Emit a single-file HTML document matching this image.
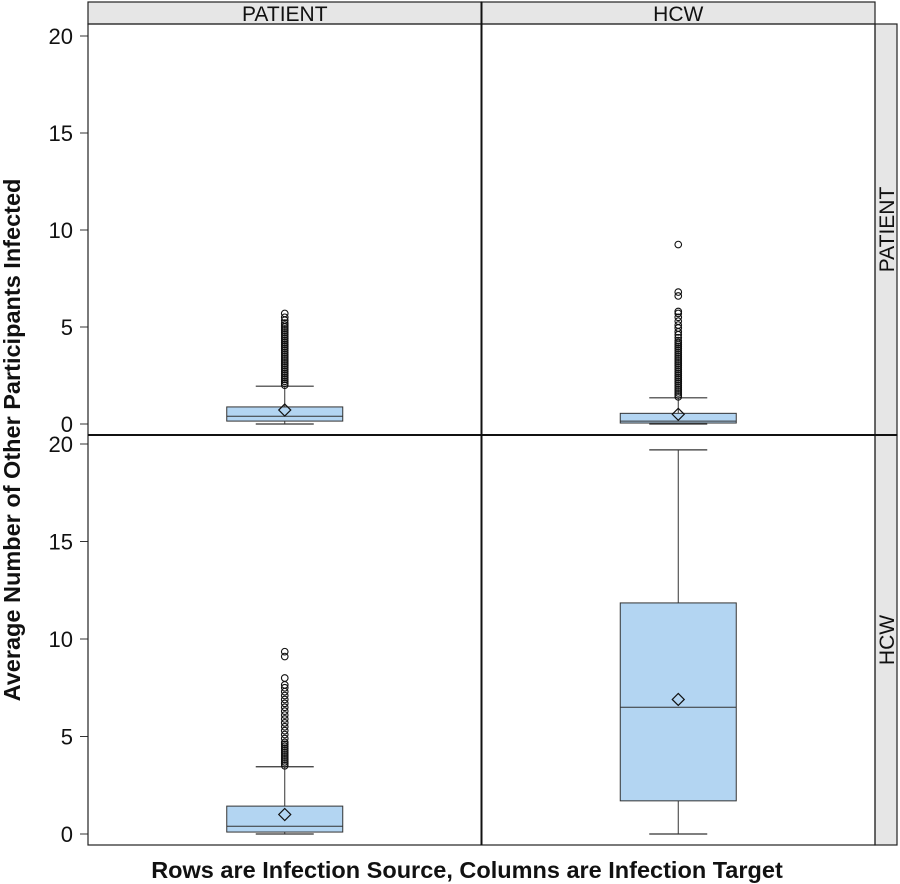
<!DOCTYPE html>
<html><head><meta charset="utf-8"><style>
html,body{margin:0;padding:0;background:#fff;}
svg{display:block;font-family:"Liberation Sans",Arial,sans-serif;}
</style></head><body>
<svg id="chart" width="900" height="884" viewBox="0 0 900 884"></svg>
<script>
const columns = ["PATIENT", "HCW"];
const rows = ["PATIENT", "HCW"];
const yTicks = [0, 5, 10, 15, 20];
// stats per panel [row][col]: min, q1, median, q3, whiskerHigh, mean
const statsPP = [0, 0.15, 0.4, 0.88, 1.95, 0.72];
const statsPH = [0, 0.05, 0.15, 0.55, 1.35, 0.5];
const statsHP = [0, 0.1, 0.4, 1.43, 3.45, 1.0];
const statsHH = [0, 1.7, 6.5, 11.85, 19.7, 6.9];
const outPP = [2.0,2.1,2.2,2.3,2.4,2.5,2.6,2.7,2.8,2.9,3.0,3.1,3.2,3.3,3.4,3.5,3.6,3.7,3.8,3.9,4.0,4.1,4.2,4.3,4.4,4.5,4.6,4.7,4.8,4.9,5.0,5.1,5.2,5.35,5.5,5.7];
const outPH = [1.4,1.5,1.6,1.7,1.8,1.9,2.0,2.1,2.2,2.3,2.4,2.5,2.6,2.7,2.8,2.9,3.0,3.1,3.2,3.3,3.4,3.5,3.6,3.7,3.8,3.9,4.0,4.1,4.2,4.3,4.45,4.6,4.75,4.95,5.1,5.3,5.5,5.7,5.8,6.6,6.8,9.25];
const outHP = [3.5,3.6,3.7,3.8,3.9,4.0,4.1,4.2,4.3,4.4,4.5,4.6,4.7,4.9,5.1,5.3,5.5,5.7,5.9,6.1,6.3,6.5,6.7,6.9,7.1,7.3,7.5,7.65,8.0,9.1,9.35];
const outHH = [];

const stats = [[statsPP, statsPH], [statsHP, statsHH]];
const outs = [[outPP, outPH], [outHP, outHH]];

const NS = "http://www.w3.org/2000/svg";
const svg = document.getElementById("chart");
function mk(tag, attrs, parent) {
  const e = document.createElementNS(NS, tag);
  for (const k in attrs) e.setAttribute(k, attrs[k]);
  (parent || svg).appendChild(e);
  return e;
}
const L = 88, R = 875, colW = (R - L) / 2;
const rowTop = [24, 435], rowBot = [435, 845];
const y0 = [424, 834], yPer = [19.4, 19.5];
function yScale(r, v) { return y0[r] - v * yPer[r]; }
function xCenter(c) { return L + colW * c + colW / 2; }
const boxHalf = 58, capHalf = 29;

columns.forEach((name, c) => {
  const g = mk("g", {});
  
  
  mk("rect", {x: L + c * colW, y: 2, width: colW, height: 22, fill: "#e6e6e6", stroke: "#222", "stroke-width": 1.2}, g);
  const t = mk("text", {x: L + c * colW + colW / 2, y: 21, "text-anchor": "middle", "font-size": 21, fill: "#111"}, g);
  t.textContent = name;
});
rows.forEach((name, r) => {
  const g = mk("g", {});
  
  
  mk("rect", {x: R, y: rowTop[r], width: 22, height: rowBot[r] - rowTop[r], fill: "#e6e6e6", stroke: "#222", "stroke-width": 1.2}, g);
  const cy = (rowTop[r] + rowBot[r]) / 2;
  const t = mk("text", {x: R + 19, y: cy, "text-anchor": "middle", "font-size": 21, fill: "#111", transform: "rotate(-90 " + (R + 19) + " " + cy + ")"}, g);
  t.textContent = name;
});

rows.forEach((name, r) => {
  const g = mk("g", {});
  
  
  yTicks.forEach(v => {
    const y = yScale(r, v);
    mk("line", {x1: 80, x2: L, y1: y, y2: y, stroke: "#333", "stroke-width": 1}, g);
    const t = mk("text", {x: 73, y: y + 8, "text-anchor": "end", "font-size": 22, fill: "#111"}, g);
    t.textContent = v;
  });
});

rows.forEach((rn, r) => {
  columns.forEach((cn, c) => {
    const g = mk("g", {});
    
    
    const s = stats[r][c];
    const cx = xCenter(c);
    const sc = v => yScale(r, v);
    mk("line", {x1: cx, x2: cx, y1: sc(s[0]), y2: sc(s[1]), stroke: "#333", "stroke-width": 1}, g);
    mk("line", {x1: cx, x2: cx, y1: sc(s[3]), y2: sc(s[4]), stroke: "#333", "stroke-width": 1}, g);
    mk("line", {x1: cx - capHalf, x2: cx + capHalf, y1: sc(s[0]), y2: sc(s[0]), stroke: "#333", "stroke-width": 1.2}, g);
    mk("line", {x1: cx - capHalf, x2: cx + capHalf, y1: sc(s[4]), y2: sc(s[4]), stroke: "#333", "stroke-width": 1.2}, g);
    const box = mk("rect", {x: cx - boxHalf, y: sc(s[3]), width: boxHalf * 2, height: sc(s[1]) - sc(s[3]), fill: "#b3d5f2", stroke: "#333", "stroke-width": 1}, g);
    
    
    mk("line", {x1: cx - boxHalf, x2: cx + boxHalf, y1: sc(s[2]), y2: sc(s[2]), stroke: "#333", "stroke-width": 1}, g);
    const my = sc(s[5]);
    const m = mk("polygon", {points: [cx, my - 6, cx + 6, my, cx, my + 6, cx - 6, my].join(" "), fill: "none", stroke: "#111", "stroke-width": 1.2}, g);
    
    
    outs[r][c].forEach(v => {
      const o = mk("circle", {cx: cx, cy: sc(v), r: 3.3, fill: "none", stroke: "#111", "stroke-width": 1.1}, g);
      
      
    });
  });
});

const fr = mk("g", {});


mk("rect", {x: L, y: 24, width: R - L, height: 845 - 24, fill: "none", stroke: "#222", "stroke-width": 1.2}, fr);
mk("line", {x1: L + colW, x2: L + colW, y1: 2, y2: 845, stroke: "#111", "stroke-width": 2}, fr);
mk("line", {x1: L, x2: R + 22, y1: 435, y2: 435, stroke: "#111", "stroke-width": 2}, fr);
</script>
<svg style="position:absolute;left:0;top:0" width="900" height="884">
<text x="467" y="878" text-anchor="middle" font-family="Liberation Sans, Arial, sans-serif" font-weight="bold" font-size="23.5" fill="#111">Rows are Infection Source, Columns are Infection Target</text>
<text x="20" y="440" text-anchor="middle" font-family="Liberation Sans, Arial, sans-serif" font-weight="bold" font-size="23.5" fill="#111" transform="rotate(-90 20 440)">Average Number of Other Participants Infected</text>
</svg>
</body></html>
